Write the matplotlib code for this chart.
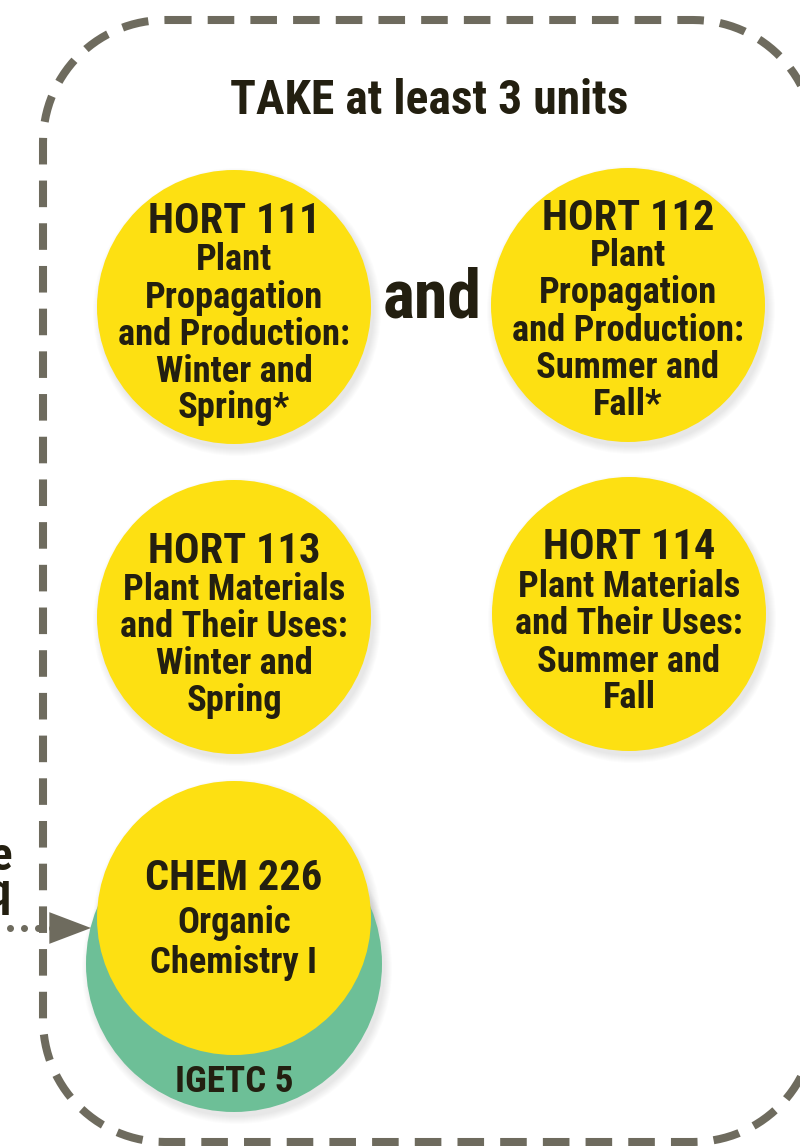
import numpy as np
import matplotlib
matplotlib.use("Agg")
import matplotlib.pyplot as plt
from matplotlib.patches import Circle, FancyArrowPatch
from matplotlib import font_manager

# course data
codes = ["HORT 111", "HORT 112", "HORT 113", "HORT 114", "CHEM 226"]
titles = [
    ["Plant", "Propagation", "and Production:", "Winter and", "Spring*"],
    ["Plant", "Propagation", "and Production:", "Summer and", "Fall*"],
    ["Plant Materials", "and Their Uses:", "Winter and", "Spring"],
    ["Plant Materials", "and Their Uses:", "Summer and", "Fall"],
    ["Organic", "Chemistry I"],
]
header = "TAKE at least 3 units"
joiner = "and"
igetc_label = "IGETC 5"
side_notes = ["Recommended course", "Prereq"]

# layout (pixel coordinates, y down)
centers = [(234, 307), (628, 305), (234, 617), (629, 614), (234, 918)]
radius = 137
title_base = [233, 230, 563, 559, 890]
line_base = [
    [270, 308, 345, 382, 418],
    [266, 303, 341, 378, 415],
    [600, 637, 674, 711],
    [597, 634, 672, 708],
    [933, 973],
]

YELLOW = "#fde012"
GREEN = "#6dbf97"
GREY = "#6e6b5e"
INK = "#231f10"

# pick a narrow bold face if one is installed
names = {f.name for f in font_manager.fontManager.ttflist}
fam = "Liberation Sans"
for cand in ["Roboto Condensed", "Liberation Sans Narrow", "DejaVu Sans Condensed",
             "Noto Sans Condensed", "Open Sans Condensed"]:
    if cand in names:
        fam = cand
        break
plt.rcParams["font.family"] = [fam, "DejaVu Sans"]

fig = plt.figure(figsize=(8, 11.46), dpi=100)
ax = fig.add_axes([0, 0, 1, 1])
ax.set_xlim(0, 800)
ax.set_ylim(1146, 0)
ax.set_aspect("equal")
ax.axis("off")
renderer = fig.canvas.get_renderer()


def fit(text, width_px):
    t = ax.text(0, 0, text, fontsize=10, fontweight="bold")
    w = t.get_window_extent(renderer).width
    t.remove()
    return 10 * width_px / w


size_head = fit(header, 398)
size_and = fit(joiner, 99)
size_code = fit("HORT 111", 173)
size_body = fit("and Production:", 232)
size_igetc = fit(igetc_label, 118)

# dashed rounded border
L, T, R, B, rad = 43, 20, 815, 1142, 122
a = np.linspace(0, np.pi / 2, 30)
xs = np.concatenate([[L + rad, R - rad], R - rad + rad * np.sin(a),
                     [R, R], R - rad + rad * np.cos(a),
                     [R - rad, L + rad], L + rad - rad * np.sin(a),
                     [L, L], L + rad - rad * np.cos(a)])
ys = np.concatenate([[T, T], T + rad - rad * np.cos(a),
                     [T + rad, B - rad], B - rad + rad * np.sin(a),
                     [B, B], B - rad + rad * np.cos(a),
                     [B - rad, T + rad], T + rad - rad * np.sin(a)])
ax.plot(xs, ys, color=GREY, linewidth=5.8, dashes=[3.3, 2.0], zorder=1)

ax.text(429, 114, header, ha="center", va="baseline", fontsize=size_head,
        fontweight="bold", color=INK, zorder=5)
ax.text(432, 317, joiner, ha="center", va="baseline", fontsize=size_and,
        fontweight="bold", color=INK, zorder=5)


def shadow(cx, cy, r):
    for k in range(8):
        ax.add_patch(Circle((cx + 3, cy + 5), r + 7 - k, facecolor="black",
                            edgecolor="none", alpha=0.012, zorder=2))


# green circle behind CHEM 226
gcx, gcy = 234, 964
shadow(gcx, gcy, 148)
ax.add_patch(Circle((gcx, gcy), 148, facecolor=GREEN, edgecolor="none", zorder=3))
ax.text(gcx, 1092, igetc_label, ha="center", va="baseline", fontsize=size_igetc,
        fontweight="bold", color=INK, zorder=5)

for i, (cx, cy) in enumerate(centers):
    shadow(cx, cy, radius)
    ax.add_patch(Circle((cx, cy), radius, facecolor=YELLOW, edgecolor="none", zorder=4))
    ax.text(cx, title_base[i], codes[i], ha="center", va="baseline", fontsize=size_code,
            fontweight="bold", color=INK, zorder=5)
    for line, yb in zip(titles[i], line_base[i]):
        ax.text(cx, yb, line, ha="center", va="baseline", fontsize=size_body,
                fontweight="bold", color=INK, zorder=5)

# text cut off at left edge
ax.text(13, 870, side_notes[0], ha="right", va="baseline", fontsize=size_code * 1.1,
        fontweight="bold", color=INK, zorder=5)
ax.text(12, 906, side_notes[1], ha="right", va="baseline", fontsize=size_code * 1.1,
        fontweight="bold", color=INK, zorder=5)

# dotted arrow
ax.plot([10, 24, 38, 52], [928, 928, 928, 928], linestyle="none", marker="o",
        markersize=4, color=GREY, zorder=5)
arrow = FancyArrowPatch((46, 928), (91, 928), arrowstyle="-|>,head_length=2.5,head_width=0.95",
                        mutation_scale=12, shrinkA=0, shrinkB=0,
                        color=GREY, linewidth=0, zorder=5)
ax.add_patch(arrow)

fig.savefig("out.png", dpi=100)
